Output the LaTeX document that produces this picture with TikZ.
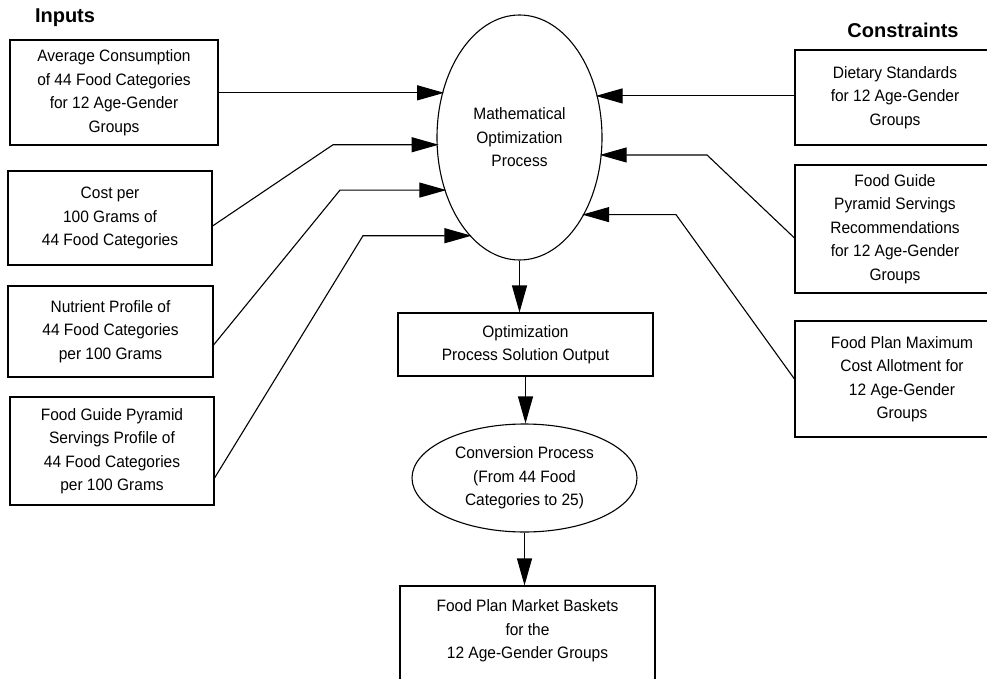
\documentclass[tikz,border=0pt]{standalone}
\usepackage{fontspec}
\setmainfont{Liberation Sans}[FakeStretch=0.94]
\newfontfamily\headfont{Liberation Sans}
\usetikzlibrary{arrows.meta,shapes.geometric}
\begin{document}
\begin{tikzpicture}[x=1pt,y=-1pt,
  txt/.style={font=\fontsize{16.5pt}{23.5pt}\selectfont, align=center, inner sep=0pt},
  box/.style={txt, draw, line width=1.1pt, rectangle},
  oval/.style={txt, draw, line width=1.1pt, ellipse},
  head/.style={font=\headfont\fontsize{20pt}{22pt}\selectfont\bfseries, inner sep=0pt},
  arr/.style={line width=1.1pt, shorten >=-2pt, -{Triangle[length=27pt,width=15pt]}}]
\useasboundingbox[fill=white] (0,0) rectangle (987,679);

\node[head] (inputs) at (65,18) {Inputs};
\node[head] (constr) at (903,30) {Constraints};

% inputs
\node[box, minimum width=208pt, minimum height=105pt] (b1) at (114,92.5)
  {Average Consumption\\of 44 Food Categories\\for 12 Age-Gender\\Groups};
\node[box, minimum width=204pt, minimum height=94pt] (b2) at (110,218)
  {Cost per\\100 Grams of\\44 Food Categories};
\node[box, minimum width=205pt, minimum height=91pt] (b3) at (110.5,331.5)
  {Nutrient Profile of\\44 Food Categories\\per 100 Grams};
\node[box, minimum width=204pt, minimum height=108pt] (b4) at (112,451)
  {Food Guide Pyramid\\Servings Profile of\\44 Food Categories\\per 100 Grams};

% constraints (right edges run past the picture)
\node[box, minimum width=200pt, minimum height=95pt] (c1) at (895,97.5)
  {Dietary Standards\\for 12 Age-Gender\\Groups};
\node[box, minimum width=200pt, minimum height=128pt] (c2) at (895,229)
  {Food Guide\\Pyramid Servings\\Recommendations\\for 12 Age-Gender\\Groups};
\node[box, minimum width=214pt, minimum height=116pt] (c3) at (902,379)
  {Food Plan Maximum\\Cost Allotment for\\12 Age-Gender\\Groups};

% centre column
\node[oval, minimum width=165pt, minimum height=245pt] (main) at (519.5,137.5)
  {Mathematical\\Optimization\\Process};
\node[box, minimum width=255pt, minimum height=63pt] (opt) at (525.5,344.5)
  {Optimization\\Process Solution Output};
\node[oval, minimum width=225pt, minimum height=108pt] (conv) at (524.5,478)
  {Conversion Process\\(From 44 Food\\Categories to 25)};
\node[box, minimum width=255pt, minimum height=130pt] (final) at (527.5,651) {};
\node[txt] (finaltext) at (527.5,631)
  {Food Plan Market Baskets\\for the\\12 Age-Gender Groups};

% input connectors
\draw[arr] (b1.east |- main.150.57) -- (main.150.57);
\draw[arr] ([yshift=-8pt]b2.east) -- (333,0 |- main.185.9) -- (main.185.9);
\draw[arr] ([yshift=-13.5pt]b3.east) -- (340,0 |- main.215.8) -- (main.215.8);
\draw[arr] ([yshift=-27pt]b4.east) -- (363,0 |- main.243.6) -- (main.243.6);

% constraint connectors
\draw[arr] (c1.west |- main.28.8) -- (main.28.8);
\draw[arr] ([yshift=-9pt]c2.west) -- (707,0 |- main.348.6) -- (main.348.6);
\draw[arr] (c3.west) -- (676,0 |- main.310.1) -- (main.310.1);

% vertical flow
\draw[arr, shorten >=0pt] (main.south) -- (main.south |- opt.north);
\draw[arr, shorten >=0pt] (opt.south) -- (opt.south |- conv.north);
\draw[arr, shorten >=0pt] (conv.south) -- (conv.south |- final.north);
\end{tikzpicture}
\end{document}
